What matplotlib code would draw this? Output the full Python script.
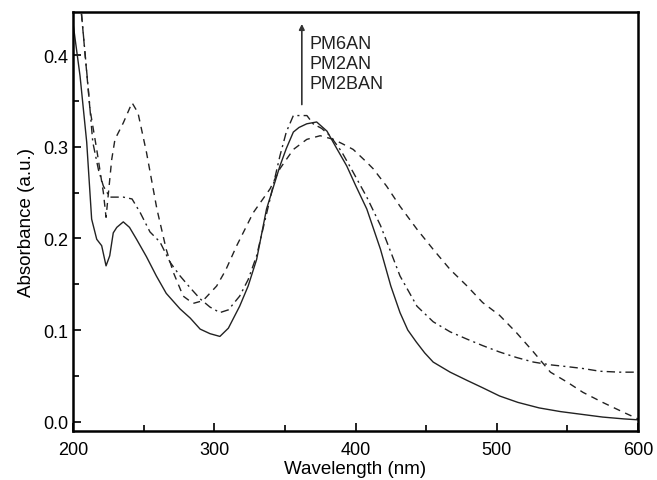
import matplotlib
matplotlib.use('Agg')
import matplotlib.pyplot as plt
from matplotlib.ticker import MultipleLocator

plt.rcParams['font.family'] = ['Liberation Sans', 'DejaVu Sans']

# solid curve
wl_solid = [200, 205, 209.7, 213.2, 216.8, 220.3, 223.4, 226, 228.5, 231, 235.6, 240, 245,
            252, 259, 266, 275.8, 283, 290, 297, 304, 310, 318, 324, 330, 337, 346.5,
            351, 356, 360, 365.5, 372.5, 379.8, 386, 393.8, 400, 408, 417.7, 425,
            431.5, 437, 443, 449, 455, 467, 479, 490, 502, 515, 530, 545, 560, 575, 590, 600]
abs_solid = [0.435, 0.377, 0.305, 0.221, 0.199, 0.192, 0.170, 0.181, 0.206, 0.212, 0.218,
             0.212, 0.199, 0.180, 0.159, 0.140, 0.123, 0.113, 0.101, 0.096, 0.093, 0.102,
             0.126, 0.148, 0.177, 0.232, 0.279, 0.298, 0.316, 0.321, 0.325, 0.327, 0.317,
             0.300, 0.279, 0.258, 0.232, 0.188, 0.148, 0.119, 0.100, 0.087, 0.075, 0.065,
             0.054, 0.045, 0.037, 0.028, 0.021, 0.015, 0.011, 0.008, 0.005, 0.003, 0.002]

# dashed curve
wl_dash = [206, 212, 216.8, 221.5, 223.4, 227.4, 229.7, 235.6, 241.8, 246, 252, 259.4,
           266, 271, 278, 285, 292, 301.7, 308, 315.9, 327.6, 339.5, 346.5, 351, 356,
           365.5, 375, 384.5, 391, 398.4, 408, 412.5, 422, 431.5, 443.5, 455, 467, 479,
           490, 502, 514, 526, 538, 550, 561, 575, 590, 600]
abs_dash = [0.445, 0.341, 0.297, 0.25, 0.223, 0.286, 0.308, 0.326, 0.348, 0.337, 0.294,
            0.232, 0.188, 0.163, 0.137, 0.129, 0.132, 0.148, 0.165, 0.192, 0.228, 0.254,
            0.276, 0.286, 0.297, 0.308, 0.312, 0.308, 0.303, 0.297, 0.283, 0.276, 0.257,
            0.235, 0.21, 0.188, 0.166, 0.148, 0.130, 0.116, 0.097, 0.076, 0.054, 0.043,
            0.032, 0.021, 0.010, 0.003]

# dash-dot curve
wl_dd = [206, 211, 214, 218, 221.5, 226, 235.6, 241.8, 247.6, 254.5, 261.6, 268.7, 275.8,
         283, 290, 297, 304, 310, 318, 324, 330, 339.5, 346.5, 351, 356, 365.6, 370,
         376, 382, 390, 398.4, 408, 417.7, 425, 431.5, 443.5, 455, 467, 479, 490, 502,
         514, 526, 538, 550, 561, 573, 587, 600]
abs_dd = [0.445, 0.36, 0.305, 0.275, 0.257, 0.245, 0.245, 0.243, 0.228, 0.207, 0.196,
          0.174, 0.159, 0.146, 0.134, 0.125, 0.119, 0.122, 0.137, 0.155, 0.181, 0.243,
          0.29, 0.316, 0.334, 0.334, 0.325, 0.320, 0.312, 0.295, 0.272, 0.245, 0.214,
          0.185, 0.159, 0.126, 0.109, 0.098, 0.090, 0.083, 0.076, 0.070, 0.065, 0.062,
          0.060, 0.058, 0.055, 0.054, 0.054]

sample_names = ['PM6AN', 'PM2AN', 'PM2BAN']

fig = plt.figure(figsize=(6.57, 4.81), dpi=100)
ax = fig.add_axes([73 / 657, 1 - 432 / 481, (638 - 73) / 657, (432 - 13) / 481])

line_color = '#222222'
ax.plot(wl_solid, abs_solid, color=line_color, lw=1.0, ls='-')
ax.plot(wl_dash, abs_dash, color=line_color, lw=1.0, ls=(0, (5, 4)))
ax.plot(wl_dd, abs_dd, color=line_color, lw=1.0, ls=(0, (6, 3, 1.5, 3)))

ax.set_xlim(200, 600)
ax.set_ylim(-0.0102, 0.447)

ax.xaxis.set_major_locator(MultipleLocator(100))
ax.xaxis.set_minor_locator(MultipleLocator(50))
ax.yaxis.set_major_locator(MultipleLocator(0.1))
ax.yaxis.set_minor_locator(MultipleLocator(0.05))
ax.tick_params(which='both', direction='in', labelsize=13, width=1.3, color='#111111')
ax.tick_params(which='major', length=6)
ax.tick_params(which='minor', length=4)
ax.tick_params(axis='x', pad=7)
for s in ax.spines.values():
    s.set_linewidth(1.8)

ax.set_xlabel('Wavelength (nm)', fontsize=13.5, labelpad=2)
ax.set_ylabel('Absorbance (a.u.)', fontsize=13.5, labelpad=6)

# arrow and sample labels
ax.annotate('', xy=(362, 0.437), xytext=(362, 0.343),
            arrowprops=dict(arrowstyle='-|>', color='#333333', lw=1.2, mutation_scale=8))
ax.text(367.5, 0.4215, '\n'.join(sample_names), fontsize=13, va='top', ha='left',
        linespacing=1.22, color='#222222')

fig.savefig('out.png', dpi=100)
